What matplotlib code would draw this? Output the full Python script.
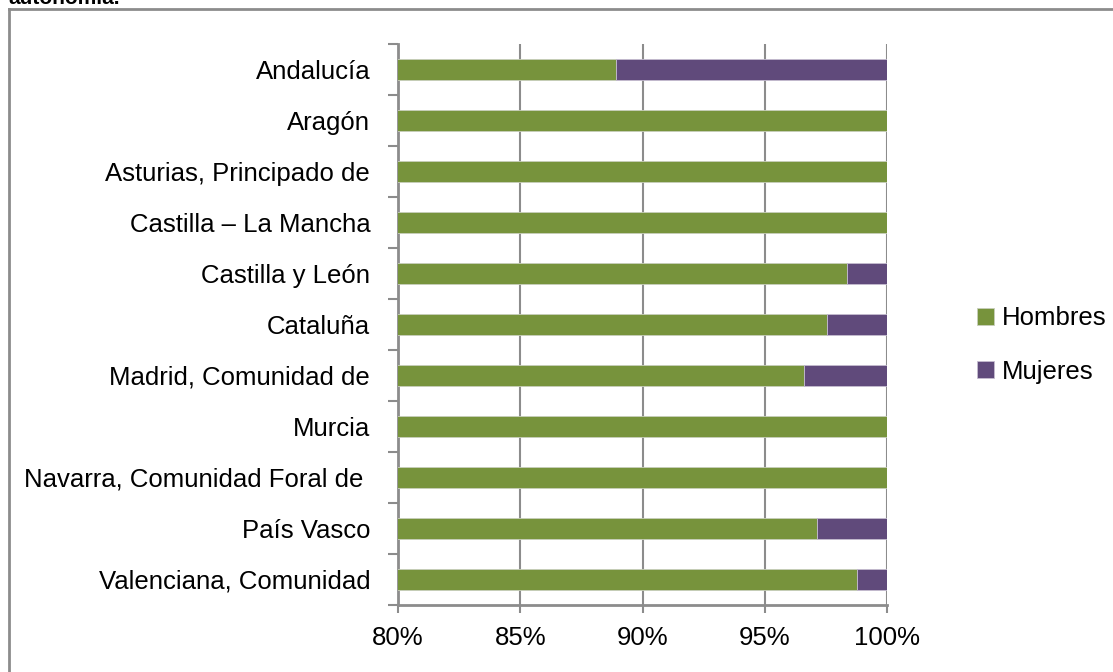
import matplotlib
matplotlib.use("Agg")
import matplotlib.pyplot as plt
from matplotlib import font_manager
from matplotlib.lines import Line2D
import numpy as np

categories = ["Andalucía", "Aragón", "Asturias, Principado de", "Castilla – La Mancha",
              "Castilla y León", "Cataluña", "Madrid, Comunidad de", "Murcia",
              "Navarra, Comunidad Foral de ", "País Vasco", "Valenciana, Comunidad"]
hombres = [88.9, 100, 100, 100, 98.37, 97.53, 96.6, 100, 100, 97.14, 98.77]
mujeres = [100 - h for h in hombres]
xticks = [80, 85, 90, 95, 100]
xticklabels = ["80%", "85%", "90%", "95%", "100%"]

names = {f.name for f in font_manager.fontManager.ttflist}
if "Liberation Sans Narrow" in names:
    fam = ["Liberation Sans Narrow", "DejaVu Sans"]
    fs = 22
else:
    fam = ["Liberation Sans", "DejaVu Sans"]
    fs = 18.5
plt.rcParams['font.family'] = fam

green = "#77933C"
purple = "#604A7B"
gray = "#8C8C8C"

W, H = 1113, 672
fig = plt.figure(figsize=(W / 100, H / 100), dpi=100)
ax = fig.add_axes([398 / W, (H - 605) / H, (887 - 398) / W, (605 - 44) / H])

y = np.arange(len(categories))
h = np.array(hombres)
m = np.array(mujeres)
ax.barh(y, h, height=0.4, color=green, edgecolor="#c8cfbb", linewidth=0.6, label="Hombres", zorder=3)
ax.barh(y, m, left=h, height=0.4, color=purple, edgecolor="#c5bdd0", linewidth=0.6, label="Mujeres", zorder=3)

ax.set_xlim(80, 100)
ax.set_ylim(len(categories) - 0.5, -0.5)
ax.set_xticks(xticks)
ax.set_xticklabels(xticklabels, fontsize=fs)
ax.set_yticks(y)
ax.set_yticklabels(categories, fontsize=fs)
ax.set_yticks(np.arange(len(categories) + 1) - 0.5, minor=True)

ax.tick_params(axis='y', which='major', length=0, pad=20)
ax.tick_params(axis='y', which='minor', length=7, width=1.5, color=gray, direction='out')
ax.tick_params(axis='x', which='major', length=6, width=1.5, color=gray, direction='out', pad=9)

ax.grid(axis='x', color=gray, linewidth=1.5, zorder=0)
ax.set_axisbelow(True)
for s in ["top", "right"]:
    ax.spines[s].set_visible(False)
for s in ["left", "bottom"]:
    ax.spines[s].set_color(gray)
    ax.spines[s].set_linewidth(2)

leg = fig.legend(loc="center left", bbox_to_anchor=(967 / W, 1 - 345 / H), frameon=False,
                 fontsize=fs, handlelength=0.65, handleheight=0.65, handletextpad=0.3,
                 labelspacing=1.15, borderaxespad=0)

# outer frame (partially cropped)
fig.add_artist(Line2D([9 / W, 1], [1 - 9 / H, 1 - 9 / H], color=gray, linewidth=2, transform=fig.transFigure))
fig.add_artist(Line2D([9 / W, 9 / W], [0, 1 - 9 / H], color=gray, linewidth=2, transform=fig.transFigure))

# cropped title (only its lower part shows, as in the source)
fig.text(8 / W, 1 - 4 / H, "autonomía.", fontsize=15, fontweight='bold',
         family=["Liberation Sans", "DejaVu Sans"], va='baseline', ha='left')

fig.savefig("out.png", dpi=100)
